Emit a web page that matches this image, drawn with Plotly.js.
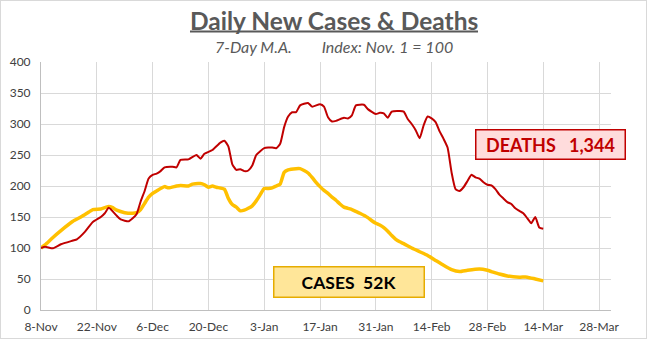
<!DOCTYPE html>
<html>
<head>
<meta charset="utf-8">
<script src="https://cdn.plot.ly/plotly-3.0.1.min.js"></script>
<style>
html,body{margin:0;padding:0;background:#fff;}
#wrap{position:relative;width:647px;height:339px;}
#chart{position:absolute;left:0;top:0;width:647px;height:339px;}
#frame{position:absolute;left:0;top:0;width:645px;height:337px;border:1px solid #d9d9d9;pointer-events:none;}
</style>
</head>
<body>
<div id="wrap"><div id="chart"></div><div id="frame"></div></div>
<script>
const deathDates = ["2020-11-08","2020-11-09","2020-11-11","2020-11-13","2020-11-16","2020-11-17","2020-11-19","2020-11-21","2020-11-23","2020-11-24","2020-11-25","2020-11-27","2020-11-28","2020-11-30",
"2020-12-01","2020-12-02","2020-12-03","2020-12-04","2020-12-05","2020-12-06","2020-12-07","2020-12-08","2020-12-09","2020-12-11","2020-12-12","2020-12-13","2020-12-15","2020-12-17","2020-12-18","2020-12-19","2020-12-21","2020-12-23","2020-12-24","2020-12-25","2020-12-26","2020-12-27","2020-12-28","2020-12-29","2020-12-30","2020-12-31",
"2021-01-01","2021-01-02","2021-01-03","2021-01-04","2021-01-05","2021-01-06","2021-01-07","2021-01-08","2021-01-09","2021-01-10","2021-01-11","2021-01-12","2021-01-14","2021-01-15","2021-01-17","2021-01-18","2021-01-19","2021-01-20","2021-01-21","2021-01-23","2021-01-24","2021-01-25","2021-01-26","2021-01-28","2021-01-29","2021-01-31",
"2021-02-01","2021-02-02","2021-02-03","2021-02-04","2021-02-06","2021-02-07","2021-02-08","2021-02-09","2021-02-10","2021-02-11","2021-02-12","2021-02-13","2021-02-14","2021-02-15","2021-02-16","2021-02-17","2021-02-18","2021-02-19","2021-02-20","2021-02-21","2021-02-22","2021-02-23","2021-02-24","2021-02-25","2021-02-26","2021-02-27","2021-02-28",
"2021-03-01","2021-03-02","2021-03-03","2021-03-04","2021-03-05","2021-03-06","2021-03-07","2021-03-08","2021-03-09","2021-03-10","2021-03-11","2021-03-12","2021-03-13","2021-03-14"];
const deathValues = [100,102,99.5,106,112,114,126,142,150,156,165,152,146,143,
148,155,175,192,212,218,220,224,230,231,230,242,243,250,244,252,258,270,273,264,235,226,227,224,225,233,
250,256,261,262,262,261,268,295,312,319,319,330,334,328,332,328,311,304,305,310,309,314,330,331,324,316,
318,317,310,320,321,320,308,300,290,277,298,312,309,303,288,276,262,222,195,192,198,208,218,214,212,206,202,
201,195,186,180,174,171,164,160,156,148,140,150,133,131];

const caseDates = ["2020-11-08","2020-11-09","2020-11-11","2020-11-13","2020-11-16","2020-11-18","2020-11-20","2020-11-21","2020-11-23","2020-11-24","2020-11-25","2020-11-26","2020-11-27","2020-11-29",
"2020-12-01","2020-12-02","2020-12-03","2020-12-04","2020-12-05","2020-12-06","2020-12-07","2020-12-09","2020-12-10","2020-12-12","2020-12-13","2020-12-15","2020-12-16","2020-12-18","2020-12-19","2020-12-20","2020-12-21","2020-12-22","2020-12-24","2020-12-25","2020-12-26","2020-12-27","2020-12-28","2020-12-29","2020-12-30","2020-12-31",
"2021-01-01","2021-01-02","2021-01-03","2021-01-04","2021-01-05","2021-01-06","2021-01-07","2021-01-08","2021-01-09","2021-01-11","2021-01-12","2021-01-13","2021-01-14","2021-01-15","2021-01-16","2021-01-17","2021-01-18","2021-01-19","2021-01-20","2021-01-21","2021-01-22","2021-01-23","2021-01-24","2021-01-25","2021-01-26","2021-01-27","2021-01-29","2021-01-30","2021-01-31",
"2021-02-01","2021-02-02","2021-02-03","2021-02-04","2021-02-05","2021-02-06","2021-02-07","2021-02-09","2021-02-11","2021-02-13","2021-02-15","2021-02-17","2021-02-19","2021-02-21","2021-02-23","2021-02-26","2021-02-28",
"2021-03-01","2021-03-03","2021-03-05","2021-03-08","2021-03-10","2021-03-12","2021-03-14"];
const caseValues = [100,105,117,128,143,150,158,162,163,165,167,165,161,157,
156,157,162,172,182,188,192,199,197,200,201,200,203,204,202,198,200,198,195,180,170,166,160,161,164,168,
176,186,196,196,197,200,203,222,226,228,228,225,221,214,206,199,193,188,182,177,171,166,164,162,159,156,149,144,140,
137,133,127,120,114,110,107,100,94,88,80,72,65,62,64,66,64,
62,58,55,53,53,50,47];

const tickDates = ["2020-11-08","2020-11-22","2020-12-06","2020-12-20","2021-01-03","2021-01-17","2021-01-31","2021-02-14","2021-02-28","2021-03-14","2021-03-28"];
const tickLabels = ["8-Nov","22-Nov","6-Dec","20-Dec","3-Jan","17-Jan","31-Jan","14-Feb","28-Feb","14-Mar","28-Mar"];
const yTicks = [0,50,100,150,200,250,300,350,400];

const titleText = "Daily New Cases & Deaths";
const subtitleText = "7-Day M.A.&nbsp;&nbsp;&nbsp;&nbsp;&nbsp;&nbsp;&nbsp;&nbsp;Index: Nov. 1 = 100";
const deathsLabel = "DEATHS&nbsp;&nbsp;&nbsp;1,344";
const casesLabel = "CASES&nbsp;&nbsp;52K";

const FONT = "Lato, 'Open Sans', sans-serif";

const traces = [
  {x: caseDates, y: caseValues, type: "scatter", mode: "lines", name: "Cases",
   line: {color: "#FFC000", width: 3.5, shape: "spline", smoothing: 0.5}, hoverinfo: "skip"},
  {x: deathDates, y: deathValues, type: "scatter", mode: "lines", name: "Deaths",
   line: {color: "#C00000", width: 2, shape: "spline", smoothing: 0.5}, hoverinfo: "skip"}
];

const layout = {
  width: 647, height: 339,
  margin: {l: 41, r: 36, t: 62, b: 29, pad: 0},
  paper_bgcolor: "#ffffff", plot_bgcolor: "#ffffff",
  showlegend: false,
  font: {family: FONT, color: "#404040", size: 12},
  xaxis: {
    type: "date", range: ["2020-11-08", "2021-03-31"],
    tickmode: "array", tickvals: tickDates, ticktext: tickLabels,
    showgrid: true, gridcolor: "#d9d9d9", gridwidth: 1,
    showline: true, linecolor: "#bfbfbf", linewidth: 1,
    zeroline: false, ticks: "", fixedrange: true, ticklabelstandoff: 6,
    tickfont: {family: FONT, size: 12, color: "#404040"}
  },
  yaxis: {
    range: [0, 400], tickmode: "array", tickvals: yTicks,
    showgrid: true, gridcolor: "#d9d9d9", gridwidth: 1,
    showline: true, linecolor: "#bfbfbf", linewidth: 1,
    zeroline: false, ticks: "", fixedrange: true, ticklabelstandoff: 7,
    tickfont: {family: FONT, size: 12, color: "#404040"}
  },
  shapes: [
    {type: "line", xref: "paper", yref: "paper", x0: 0.2614, x1: 0.7667, y0: 1.123, y1: 1.123,
     line: {color: "#595959", width: 2}}
  ],
  annotations: [
    {text: "<b>" + titleText + "</b>", xref: "paper", yref: "paper", x: 0.514, y: 1.169,
     xanchor: "center", yanchor: "middle", showarrow: false,
     font: {family: FONT, size: 24.5, color: "#595959"}},
    {text: "<i>" + subtitleText + "</i>", xref: "paper", yref: "paper", x: 0.514, y: 1.0645,
     xanchor: "center", yanchor: "middle", showarrow: false,
     font: {family: FONT, size: 16, color: "#595959"}},
    {text: "<b>" + deathsLabel + "</b>", xref: "paper", yref: "paper", x: 0.8944, y: 0.6665,
     xanchor: "center", yanchor: "middle", showarrow: false, width: 148, height: 28,
     bgcolor: "#FFDCDC", bordercolor: "#C00000", borderwidth: 1.5, borderpad: 0,
     font: {family: FONT, size: 18, color: "#C00000"}},
    {text: "<b>" + casesLabel + "</b>", xref: "paper", yref: "paper", x: 0.540, y: 0.1141,
     xanchor: "center", yanchor: "middle", showarrow: false, width: 149, height: 29,
     bgcolor: "#FFE699", bordercolor: "#E6AC00", borderwidth: 1.5, borderpad: 0,
     font: {family: FONT, size: 17.5, color: "#000000"}}
  ]
};

Plotly.newPlot("chart", traces, layout, {staticPlot: true, displayModeBar: false});
</script>
</body>
</html>
